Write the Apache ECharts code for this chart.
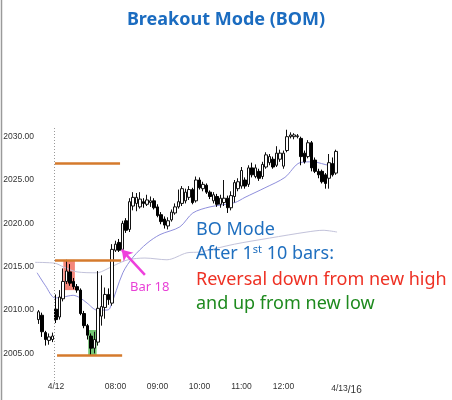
<!DOCTYPE html>
<html><head><meta charset="utf-8">
<script src="https://cdn.jsdelivr.net/npm/echarts@6/dist/echarts.min.js"></script>
<style>html,body{margin:0;padding:0;background:#fff}#c{width:452px;height:400px}</style>
</head><body><div id="c"></div>
<script>
// ---- data (open, close, low, high) ----
const preBars = [
  [2008.9, 2009.8, 2008.4, 2010.0],
  [2009.4, 2007.5, 2006.9, 2009.7],
  [2007.4, 2006.6, 2005.9, 2007.6],
  [2006.5, 2006.9, 2006.0, 2007.3],
  [2006.6, 2007.0, 2006.3, 2007.4]
];
const dayBars = [
  [2010.1, 2008.9, 2008.5, 2011.8],[2009.2, 2011.5, 2008.9, 2012.3],[2011.3, 2013.3, 2011.0, 2014.8],
  [2013.3, 2014.5, 2013.0, 2015.8],[2014.4, 2013.1, 2012.8, 2015.3],[2013.3, 2012.7, 2012.4, 2013.7],
  [2012.7, 2012.3, 2012.0, 2013.0],[2012.3, 2009.6, 2009.4, 2012.5],[2009.6, 2008.2, 2007.9, 2009.9],
  [2008.2, 2007.1, 2006.6, 2008.4],[2007.0, 2005.6, 2004.8, 2007.3],[2005.6, 2006.6, 2005.0, 2007.5],
  [2006.3, 2010.2, 2005.9, 2014.5],[2009.3, 2010.4, 2008.2, 2014.0],[2010.3, 2011.8, 2009.0, 2012.6],
  [2011.8, 2011.2, 2010.6, 2012.5],[2010.8, 2017.0, 2010.5, 2017.6],[2016.9, 2017.6, 2016.7, 2018.0],
  [2017.8, 2016.9, 2016.7, 2018.2],[2017.0, 2020.0, 2016.8, 2020.3],[2020.3, 2019.2, 2018.9, 2020.6],
  [2019.3, 2022.5, 2019.0, 2022.9],[2022.0, 2023.0, 2021.5, 2023.6],[2022.3, 2023.0, 2021.4, 2023.5],
  [2021.9, 2022.8, 2021.7, 2023.6],[2022.5, 2022.3, 2021.8, 2022.9],[2022.2, 2022.7, 2022.0, 2023.3],
  [2022.4, 2022.6, 2021.9, 2023.1],[2022.6, 2021.8, 2021.6, 2022.9],[2021.9, 2020.9, 2020.7, 2022.2],
  [2021.0, 2020.2, 2019.9, 2021.3],[2020.5, 2019.8, 2019.4, 2020.8],[2019.7, 2020.3, 2019.3, 2020.7],
  [2020.4, 2021.3, 2020.2, 2021.6],[2021.2, 2021.9, 2021.0, 2022.3],[2021.9, 2022.5, 2021.7, 2023.9],
  [2022.3, 2024.0, 2022.0, 2024.3],[2022.6, 2023.6, 2022.3, 2024.0],[2023.0, 2023.9, 2022.7, 2024.3],
  [2023.9, 2022.4, 2022.2, 2024.1],[2022.6, 2025.0, 2022.4, 2025.4],[2025.0, 2024.1, 2023.9, 2025.3],
  [2024.0, 2024.5, 2023.7, 2024.8],[2024.4, 2023.6, 2023.4, 2024.6],[2023.6, 2023.1, 2022.8, 2023.8],
  [2022.6, 2023.3, 2022.3, 2023.6],[2023.1, 2022.2, 2021.9, 2023.4],[2022.2, 2022.9, 2021.8, 2023.3],
  [2022.4, 2022.9, 2022.0, 2025.0],[2022.9, 2021.8, 2021.2, 2023.2],[2021.8, 2023.2, 2021.5, 2023.7],
  [2023.1, 2024.7, 2022.4, 2025.0],[2024.0, 2024.8, 2023.7, 2025.2],[2024.3, 2026.1, 2024.0, 2026.5],
  [2025.0, 2024.3, 2024.0, 2025.3],[2024.5, 2026.4, 2024.2, 2026.7],[2026.4, 2025.6, 2025.3, 2027.0],
  [2025.4, 2026.4, 2025.2, 2026.8],[2026.0, 2025.2, 2024.9, 2026.3],[2025.4, 2026.8, 2025.1, 2027.1],
  [2026.5, 2027.9, 2026.3, 2028.2],[2027.0, 2027.7, 2026.7, 2028.0],[2027.4, 2026.5, 2026.3, 2027.7],
  [2026.7, 2028.1, 2026.5, 2028.9],[2027.4, 2028.1, 2027.1, 2028.5],[2026.6, 2028.1, 2026.3, 2028.4],
  [2028.4, 2030.0, 2028.2, 2030.8],[2030.0, 2030.2, 2029.8, 2030.5],[2030.0, 2030.2, 2029.7, 2030.4],
  [2030.0, 2030.1, 2029.8, 2030.3],[2029.8, 2027.7, 2026.7, 2030.0],[2028.1, 2027.1, 2026.9, 2028.4],
  [2027.7, 2029.3, 2027.5, 2029.6],[2029.3, 2026.4, 2026.0, 2029.5],[2027.3, 2026.0, 2025.8, 2027.6],
  [2026.0, 2025.6, 2025.2, 2026.3],[2026.0, 2024.8, 2024.6, 2026.2],[2025.6, 2024.6, 2024.0, 2025.8],
  [2025.2, 2027.0, 2024.0, 2028.0],[2026.9, 2025.6, 2025.4, 2027.6],[2025.8, 2028.3, 2025.6, 2028.5]
];
// indicator lines: [bar slot, price]
const emaPoints = [[0.6,2014.3],[3,2012.8],[5.7,2011.4],[8,2011.5],[10.9,2011.7],[12.9,2011.4],[14.9,2010.8],
  [17.7,2010.0],[20.6,2010.0],[21.4,2010.2],[25.1,2014.3],[28,2016.1],[32,2017.7],[35.7,2018.7],[41.4,2019.6],
  [45.1,2021.2],[50,2021.9],[57.1,2022.4],[60,2023.0],[65.7,2024.1],[71.4,2025.3],[75.7,2027.0],[79.4,2027.1],
  [84.3,2026.7],[86.3,2027.0]];
const bandPoints = [[0,2015.5],[5.7,2015.4],[8,2015.0],[12,2014.4],[17.7,2014.3],[19.4,2014.5],[22.9,2015.2],
  [26.6,2015.8],[31.4,2016.0],[37.7,2015.8],[43.4,2016.6],[47.1,2016.7],[57,2017.6],[67,2018.3],[77.7,2019.0],
  [82.3,2019.2],[86.3,2019.0]];
const levels = { target: 2026.9, high: 2015.8, low: 2004.8 };
const redBox = [[8.1, 2015.78], [11.4, 2012.3]];
const greenBox = [[15.2, 2007.7], [17.6, 2004.8]];
const yTicks = [2005, 2010, 2015, 2020, 2025, 2030];
const tickLabels = ['4/12', '08:00', '09:00', '10:00', '11:00', '12:00', '4/13/16'];

// ---- categories (5-minute bars) ----
const N = 119;
const pad = n => (n < 10 ? '0' : '') + n;
const categories = [];
for (let k = 0; k < N; k++) {
  if (k < 6) { const m = 12 * 60 + 50 + 5 * k; categories.push('4/11 ' + pad(Math.floor(m / 60)) + ':' + pad(m % 60)); }
  else if (k === 6) categories.push('4/12');
  else if (k <= 86) { const m = 6 * 60 + 35 + 5 * (k - 6); categories.push(pad(Math.floor(m / 60)) + ':' + pad(m % 60)); }
  else if (k === 89) categories.push('4/13/16');
  else categories.push('4/13 #' + k);
}
const candleData = [];
preBars.forEach((b, i) => candleData.push([1 + i].concat(b)));
dayBars.forEach((b, i) => candleData.push([6 + i].concat(b)));

const chart = echarts.init(document.getElementById('c'));
const lbl = { fontSize: 8.5, color: '#333', fontFamily: 'Liberation Sans' };
chart.setOption({
  backgroundColor: '#fff',
  animation: false,
  title: { text: 'Breakout Mode (BOM)', left: 'center', top: 6,
    textStyle: { fontSize: 18, fontWeight: 'bold', color: '#1b6cc0', fontFamily: 'Noto Sans' } },
  grid: { left: 33.25, right: 2.25, top: 128, bottom: 18 },
  xAxis: [
    { type: 'category', data: categories, boundaryGap: true,
      axisLine: { show: false }, axisTick: { show: false }, splitLine: { show: false },
      axisLabel: Object.assign({}, lbl, {
        interval: (i, v) => tickLabels.includes(v), margin: 0,
        formatter: v => v === '4/13/16' ? '{a|4/13}{b|/16}' : v,
        rich: { a: { fontSize: 8.5, color: '#333', fontFamily: 'Liberation Sans' },
                b: { fontSize: 10, color: '#333', fontFamily: 'Liberation Sans', padding: [3, 0, 0, 0] } } }) },
    { type: 'value', min: -0.5, max: N - 0.5, show: false }
  ],
  yAxis: { type: 'value', min: 2001.7, max: 2031, scale: true,
    axisLine: { show: false }, axisTick: { show: false }, splitLine: { show: false },
    axisLabel: Object.assign({}, lbl, { customValues: yTicks, align: 'left', margin: 30,
      formatter: v => v.toFixed(2) }) },
  series: [
    { type: 'line', xAxisIndex: 1, data: bandPoints, symbol: 'none', smooth: 0.3, z: 1,
      lineStyle: { color: '#c2c2da', width: 1 } },
    { type: 'line', xAxisIndex: 1, data: emaPoints, symbol: 'none', smooth: 0.3, z: 1,
      lineStyle: { color: '#8f8fdc', width: 1 } },
    { type: 'candlestick', xAxisIndex: 0, data: candleData, encode: { x: 0, y: [1, 2, 3, 4] },
      barWidth: 3, z: 3,
      itemStyle: { color: '#fff', color0: '#000', borderColor: '#111', borderColor0: '#000', borderWidth: 1 } },
    { type: 'line', xAxisIndex: 1, data: [], z: 5, silent: true,
      markArea: { silent: true, data: [
        [{ coord: redBox[0], itemStyle: { color: 'rgba(238,60,40,0.62)' } }, { coord: redBox[1] }],
        [{ coord: greenBox[0], itemStyle: { color: 'rgba(30,165,30,0.62)' } }, { coord: greenBox[1] }]
      ] },
      markLine: { silent: true, symbol: 'none', label: { show: false },
        data: [
          [{ coord: [5.7, levels.target] }, { coord: [24.3, levels.target] }],
          [{ coord: [5.7, levels.high] }, { coord: [24.6, levels.high] }],
          [{ coord: [6.3, levels.low] }, { coord: [24.9, levels.low] }],
          [{ coord: [5.6, 2031], lineStyle: { type: [1, 2], color: '#999', width: 1 } }, { coord: [5.6, 2001.7] }],
          [{ coord: [31.4, 2014.05], symbol: 'none', lineStyle: { color: '#ee3fdc', width: 2.5, type: 'solid' } },
           { coord: [24.8, 2016.95], symbol: 'arrow', symbolSize: 10 }]
        ],
        lineStyle: { color: '#d57a2c', width: 2.5, type: 'solid' } } }
  ],
  graphic: [
    { type: 'line', shape: { x1: 1.5, y1: 0, x2: 1.5, y2: 400 }, style: { stroke: '#9a9a9a', lineWidth: 1.5 } },
    { type: 'text', z: 10, style: { x: 196, y: 230, text: 'BO Mode', fill: '#1f6fbf', verticalAlign: 'middle',
      font: '18px "Noto Sans"' } },
    { type: 'text', z: 10, style: { x: 196, y: 254, text: '{n|After 1}{s|st}{n| 10 bars:}', verticalAlign: 'middle',
      rich: { n: { fontSize: 18, fontFamily: 'Noto Sans', fill: '#1f6fbf' },
              s: { fontSize: 11, fontFamily: 'Noto Sans', fill: '#1f6fbf', padding: [0, 0, 9, 0] } } } },
    { type: 'text', z: 10, style: { x: 196, y: 280, text: 'Reversal down from new high', fill: '#ee3124',
      verticalAlign: 'middle', font: '18px "Noto Sans"' } },
    { type: 'text', z: 10, style: { x: 196, y: 304, text: 'and up from new low', fill: '#1e8a1e',
      verticalAlign: 'middle', font: '18px "Noto Sans"' } },
    { type: 'text', z: 10, style: { x: 130, y: 287, text: 'Bar 18', fill: '#e83fd6',
      verticalAlign: 'middle', font: '13px "Noto Sans"' } }
  ]
});
</script></body></html>
